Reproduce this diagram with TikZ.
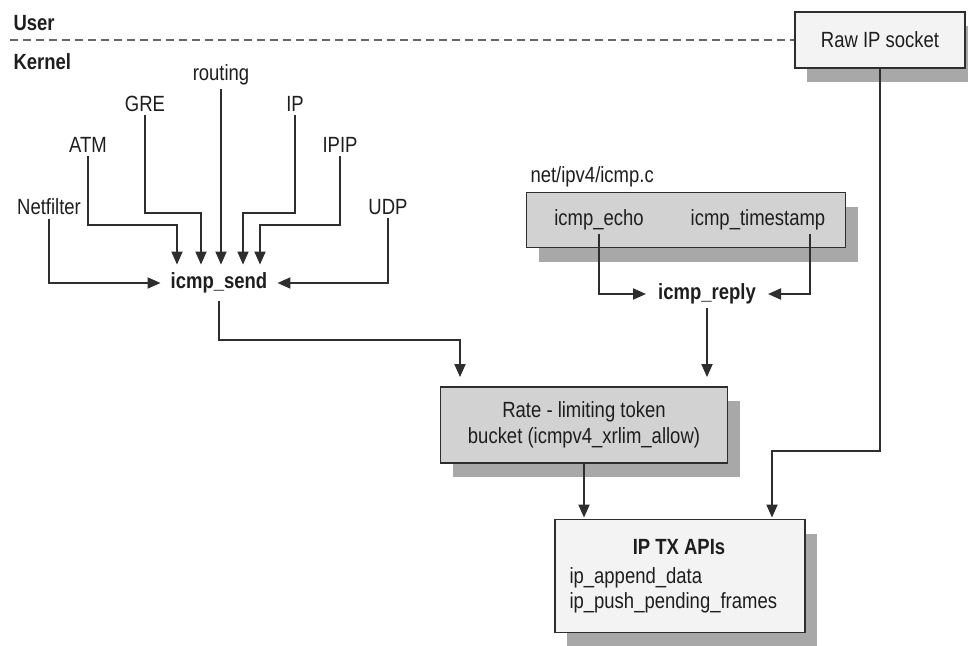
\documentclass[tikz,border=0pt]{standalone}
\usepackage{fontspec}
\setmainfont{Liberation Sans}[FakeStretch=0.84]
\usetikzlibrary{arrows.meta,shadows}
\definecolor{edge}{HTML}{2E2E2E}
\definecolor{txt}{HTML}{1E1E1E}
\definecolor{light}{HTML}{F3F3F3}
\definecolor{mid}{HTML}{D2D2D2}
\definecolor{shade}{HTML}{6E6E6E}

\begin{document}
\begin{tikzpicture}[x=1pt,y=-1pt,
  every node/.style={font=\fontsize{22}{26}\selectfont, text=txt},
  bold/.style={font=\fontsize{22}{26}\selectfont\bfseries},
  box/.style={draw=edge, line width=1.9pt, fill=light,
    drop shadow={shadow xshift=12pt, shadow yshift=-14pt, fill=shade, opacity=.6}},
  grbox/.style={box, fill=mid},
  arr/.style={draw=edge, line width=1.9pt, -{Triangle[length=13pt,width=11pt]}}]
\useasboundingbox[fill=white] (0,0) rectangle (968,645);

% user / kernel split
\node[bold, anchor=west] (user) at (10,23) {User};
\node[bold, anchor=west] (kernel) at (10,62) {Kernel};
\node[box, minimum width=170pt, minimum height=56pt] (raw) at (880,40) {Raw IP socket};
\coordinate (split) at (10,40);
\draw[draw=black!60, line width=1.6pt, dash pattern=on 8pt off 5pt] (split) -- (raw.west);

% callers of icmp_send
\node (routing) at (221,75) {routing};
\node (gre) at (145,104) {GRE};
\node (iplbl) at (295,104) {IP};
\node (atm) at (88,145) {ATM};
\node (ipip) at (340,145) {IPIP};
\node (netf) at (49,207) {Netfilter};
\node (udp) at (388,207) {UDP};
\node[bold, inner xsep=10pt, inner ysep=8pt] (send) at (219,283) {icmp\_send};

\draw[arr] (netf.south) |- (send.west);
\draw[arr] (udp.south) |- (send.east);
\draw[arr] (atm.south) -- (atm.south |- 0,225) -| ([xshift=-42pt]send.north);
\draw[arr] (gre.south) -- (gre.south |- 0,213) -| ([xshift=-18pt]send.north);
\draw[arr] (routing.south) -- (routing.south |- send.north);
\draw[arr] (iplbl.south) -- (iplbl.south |- 0,213) -| ([xshift=24pt]send.north);
\draw[arr] (ipip.south) -- (ipip.south |- 0,225) -| ([xshift=41pt]send.north);

% net/ipv4/icmp.c
\node[anchor=west] (icmpc) at (527,177) {net/ipv4/icmp.c};
\node[grbox, minimum width=319pt, minimum height=55pt] (icmpbox) at (686,220) {};
\node (echo) at (599,220) {icmp\_echo};
\node (tstamp) at (758,220) {icmp\_timestamp};
\node[bold, inner xsep=12pt] (reply) at (707,294) {icmp\_reply};
\draw[arr] (echo.south) |- (reply.west);
\draw[arr] (tstamp.south -| 810,0) |- (reply.east);

% rate limiting
\node[grbox, minimum width=287pt, minimum height=76pt, align=center] (rate) at (584,425)
  {Rate - limiting token\\bucket (icmpv4\_xrlim\_allow)};
\coordinate (k1) at (460,340);
\draw[arr, shorten >=9pt] (send.south) |- (k1) -- (k1 |- rate.north);
\draw[arr, shorten >=9pt] (reply.south) -- (reply.south |- rate.north);

% ip tx
\node[box, minimum width=250pt, minimum height=113pt] (iptx) at (680,576) {};
\node[bold] (txhead) at (679,547) {IP TX APIs};
\node[anchor=west] (append) at (566,578) {ip\_append\_data};
\node[anchor=west] (push) at (566,603) {ip\_push\_pending\_frames};
\draw[arr, shorten >=1pt] (rate.south) -- (rate.south |- iptx.north);
\draw[arr, shorten >=1pt] (raw.south) -- ++(0,382) -| ([xshift=92pt]iptx.north);
\end{tikzpicture}
\end{document}
